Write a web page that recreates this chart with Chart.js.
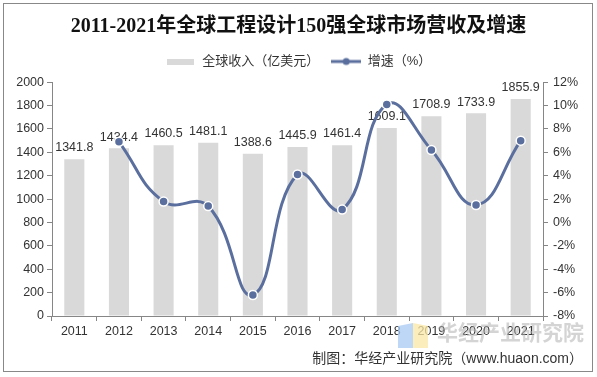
<!DOCTYPE html>
<html><head><meta charset="utf-8">
<script src="https://cdn.jsdelivr.net/npm/chart.js@4/dist/chart.umd.min.js"></script>
<style>html,body{margin:0;padding:0;background:#fff}canvas{display:block}</style>
</head><body>
<canvas id="c" width="597" height="377"></canvas>
<script>
const years = ['2011','2012','2013','2014','2015','2016','2017','2018','2019','2020','2021'];
const revenue = [1341.8,1434.4,1460.5,1481.1,1388.6,1445.9,1461.4,1609.1,1708.9,1733.9,1855.9];
const growth = [null,6.9,1.8,1.4,-6.2,4.1,1.1,10.1,6.2,1.5,7.0];
const seriesNames = ['全球收入（亿美元）','增速（%）'];
const titleText = '2011-2021年全球工程设计150强全球市场营收及增速';
const sourceText = '制图：华经产业研究院（www.huaon.com）';
const watermarkText = '华经产业研究院';

const SANS = "'Liberation Sans','Noto Sans CJK SC',sans-serif";
const BAR = '#d9d9d9', LINE = '#5b6f9e', AXIS = '#868686', TXT = '#333333';

function mk(w,h,fn){const c=document.createElement('canvas');c.width=w;c.height=h;fn(c.getContext('2d'));return c;}
const barIcon = mk(27,6,g=>{g.fillStyle=BAR;g.fillRect(0,0,27,6);});
const lineIcon = mk(30,10,g=>{g.strokeStyle=LINE;g.lineWidth=3;g.beginPath();g.moveTo(0,5);g.lineTo(30,5);g.stroke();g.fillStyle=LINE;g.beginPath();g.arc(15,5,3.5,0,Math.PI*2);g.fill();});

const decor = {
  id:'decor',
  beforeDraw(chart){
    const g=chart.ctx; g.save();
    g.fillStyle='#fff'; g.fillRect(0,0,chart.width,chart.height);
    g.strokeStyle='#888'; g.lineWidth=1; g.strokeRect(3.5,3.5,589,368);
    g.restore();
  },
  afterDatasetDraw(chart,args){
    if(args.index!==0) return;
    const g=chart.ctx; g.save();
    g.font='12.5px '+SANS; g.fillStyle=TXT; g.textAlign='center'; g.textBaseline='bottom';
    chart.getDatasetMeta(0).data.forEach((b,i)=>{ g.fillText(revenue[i].toFixed(1), b.x, b.y-5); });
    g.restore();
  },
  afterDraw(chart){
    const g=chart.ctx; g.save();
    g.globalAlpha=0.75;
    g.fillStyle='#a9c9f3'; g.beginPath(); g.moveTo(398,326); g.lineTo(413,323); g.lineTo(413,348); g.lineTo(398,348); g.closePath(); g.fill();
    g.fillStyle='#fbe8a6'; g.beginPath(); g.moveTo(413,323); g.lineTo(428,326); g.lineTo(428,348); g.lineTo(413,348); g.closePath(); g.fill();
    g.globalAlpha=0.55;
    g.fillStyle='#b0b0b0'; g.font="bold 21px 'Noto Sans CJK SC',sans-serif"; g.textBaseline='middle'; g.textAlign='left';
    g.fillText(watermarkText,437,332);
    g.globalAlpha=1;
    g.fillStyle=TXT; g.font="14px "+SANS; g.textAlign='right';
    g.fillText(sourceText,583,359);
    g.restore();
  }
};

new Chart(document.getElementById('c'),{
  data:{labels:years,datasets:[
    {type:'bar',label:seriesNames[0],data:revenue,backgroundColor:BAR,yAxisID:'y',order:1,barPercentage:0.9,categoryPercentage:0.5},
    {type:'line',label:seriesNames[1],data:growth,borderColor:LINE,backgroundColor:LINE,borderWidth:3,tension:0.45,
     pointRadius:4.5,pointBorderColor:'#fff',pointBorderWidth:1.5,pointBackgroundColor:LINE,yAxisID:'y1',order:0}
  ]},
  options:{
    responsive:false,animation:false,devicePixelRatio:1,
    layout:{padding:{left:4,right:4,top:6,bottom:41}},
    plugins:{
      tooltip:{enabled:false},
      title:{display:true,text:titleText,color:'#111',font:{family:"'Liberation Serif','Noto Sans CJK SC',serif",size:20,weight:'bold'},padding:{top:9,bottom:4}},
      subtitle:{display:true,text:' ',weight:500,font:{size:3.5,lineHeight:1.2},padding:0},
      legend:{display:true,labels:{usePointStyle:true,pointStyleWidth:30,padding:12,color:TXT,font:{family:SANS,size:13},
        generateLabels(){return [
          {text:seriesNames[0],pointStyle:barIcon,fillStyle:BAR,strokeStyle:BAR,lineWidth:0,hidden:false,datasetIndex:0,fontColor:TXT},
          {text:seriesNames[1],pointStyle:lineIcon,fillStyle:LINE,strokeStyle:LINE,lineWidth:0,hidden:false,datasetIndex:1,fontColor:TXT}
        ];}}}
    },
    scales:{
      x:{offset:true,grid:{display:true,drawOnChartArea:false,tickLength:5,color:AXIS,offset:true},border:{color:AXIS},
         ticks:{color:TXT,font:{family:SANS,size:12.5},padding:3},afterFit(s){s.height=20;}},
      y:{position:'left',min:0,max:2000,grid:{drawOnChartArea:false,tickLength:5,color:AXIS},border:{color:AXIS},
         ticks:{stepSize:200,color:TXT,font:{family:SANS,size:12.5},padding:3,callback:v=>String(v)},afterFit(s){s.width=48;}},
      y1:{position:'right',min:-8,max:12,grid:{drawOnChartArea:false,tickLength:5,color:AXIS},border:{color:AXIS},
         ticks:{stepSize:2,color:TXT,font:{family:SANS,size:12.5},padding:5,callback:v=>v+'%'},afterFit(s){s.width=50;}}
    }
  },
  plugins:[decor]
});
</script>
</body></html>
